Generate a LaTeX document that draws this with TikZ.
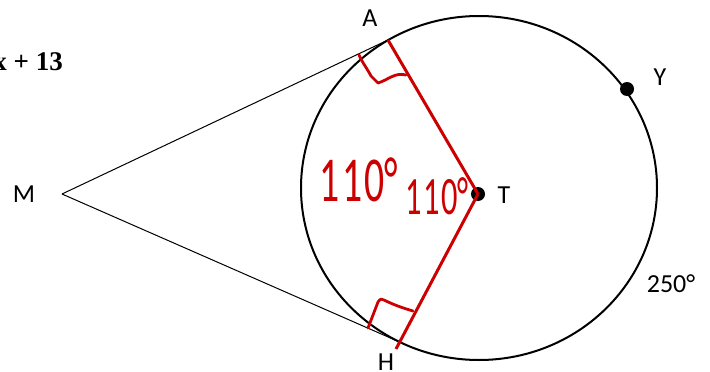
\documentclass[tikz,border=0pt]{standalone}
\usepackage{fontspec}
\setmainfont{Carlito}
\newfontfamily\timesfont{Liberation Serif}
\newfontfamily\handfont{Carlito}
\definecolor{penred}{RGB}{204,0,0}
\begin{document}
\begin{tikzpicture}[x=1pt,y=-1pt,
  lbl/.style={font=\fontsize{26}{26}\selectfont, inner sep=0pt},
  tang/.style={line width=1pt, black},
  radius line/.style={line width=3pt, penred},
  rightmark/.style={line width=2.8pt, penred, line join=round, line cap=round},
  dotnode/.style={circle, fill=black, inner sep=0pt, minimum size=14pt},
  hand/.style={penred, inner sep=0pt}]
\useasboundingbox (0,0) rectangle (710,372);
% circle
\draw[line width=2pt] (479,188) ellipse [x radius=178, y radius=172];
% points
\coordinate (M) at (62,194);
\coordinate (A) at (388,40);
\coordinate (H) at (395,340);
\coordinate (Hend) at (396,349);
\node[dotnode] (T) at (478,194) {};
\node[dotnode] (Y) at (627,89) {};
% tangents
\draw[tang] (M) -- (A);
\draw[tang] (M) -- (H);
% radii
\draw[radius line] (A) -- (T.center);
\draw[radius line] (T.center) -- (Hend);
% right angle marks
\draw[rightmark] (359,55) .. controls (362,62) and (368,70) .. (371,76) -- (378,83) .. controls (388,80) and (395,72) .. (406,75);
\draw[rightmark] (368,328) -- (378,302) .. controls (380,299) and (382,298) .. (384,300) .. controls (394,305) and (403,308) .. (413,311);
% labels
\node[lbl] (lA) at (370,18) {A};
\node[lbl] (lM) at (24,194) {M};
\node[lbl] (lT) at (504,195) {T};
\node[lbl] (lH) at (386,362) {H};
\node[lbl] (lY) at (660,77) {Y};
\node[lbl] (l250) at (671,284) {250°};
\node[inner sep=0pt, anchor=base east, font=\timesfont\bfseries\fontsize{27}{27}\selectfont] (eq) at (63,70) {x + 13};
% handwritten angles
\node[hand, font=\handfont\fontsize{64}{64}\selectfont] (h1) at (359,180) {\scalebox{0.62}[1]{1\hspace{5pt}1\hspace{3pt}0°}};
\node[hand, font=\handfont\fontsize{54}{54}\selectfont] (h2) at (437,196) {\scalebox{0.6}[1]{1\hspace{4pt}1\hspace{2pt}0°}};
\end{tikzpicture}
\end{document}
